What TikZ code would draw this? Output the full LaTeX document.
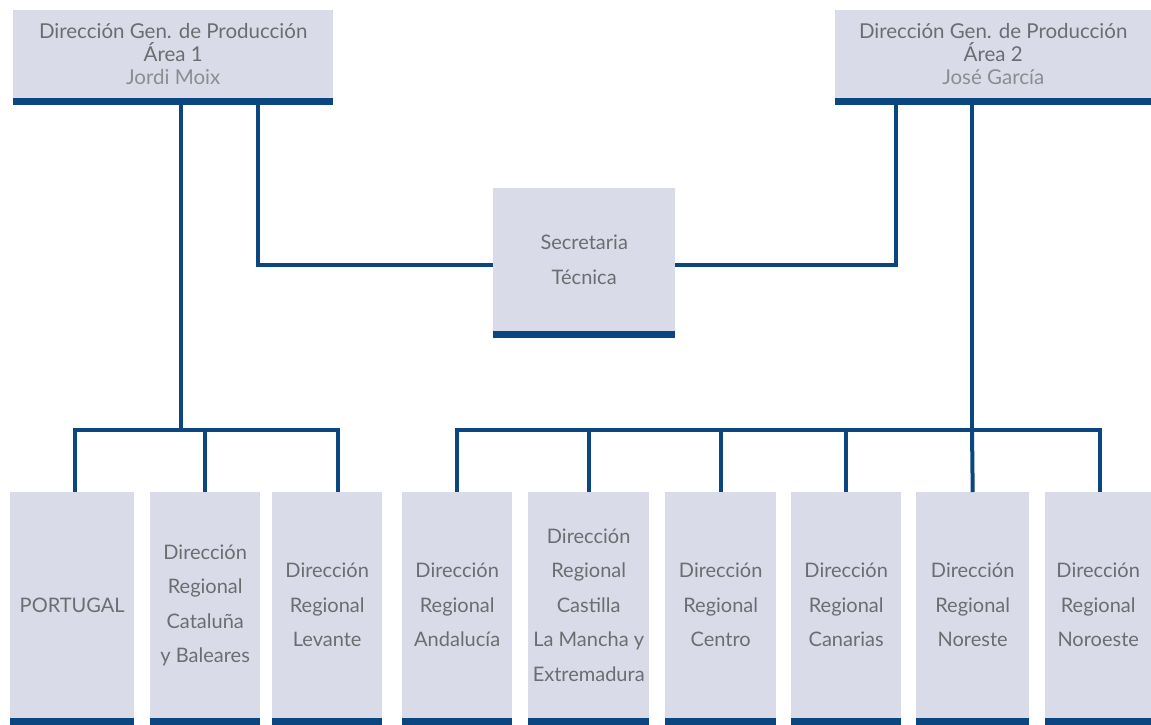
\documentclass[tikz,border=0pt]{standalone}
\usepackage{fontspec}
\setmainfont{Lato}
\usetikzlibrary{positioning,calc}
\definecolor{boxfill}{RGB}{217,220,232}
\definecolor{barblue}{RGB}{11,70,128}
\definecolor{txtgray}{RGB}{108,109,112}
\definecolor{namegray}{RGB}{140,141,145}
\tikzstyle{gbox}=[rectangle, fill=boxfill, inner sep=0pt, anchor=north west,
 text=txtgray, align=center, font=\fontsize{20.5}{23}\selectfont]
\tikzstyle{rbox}=[gbox, minimum height=226pt, font=\fontsize{20}{34.5}\selectfont]
\tikzstyle{conn}=[-, draw=barblue, line width=4pt]
\newcommand{\boxname}[1]{{\color{namegray}#1}}

\begin{document}
\begin{tikzpicture}[x=1pt,y=-1pt]
\useasboundingbox[fill=white] (0,0) rectangle (1151,724);

% direcciones generales
\node (gen1) [gbox, minimum width=320pt, minimum height=88pt] at (13,10)
 {Dirección Gen. de Producción\\Área 1\\\boxname{Jordi Moix}};
\node (gen2) [gbox, minimum width=316pt, minimum height=88pt] at (835,10)
 {Dirección Gen. de Producción\\Área 2\\\boxname{José García}};

\node (sec) [gbox, minimum width=182pt, minimum height=143pt,
 font=\fontsize{20}{35}\selectfont] at (493,188) {Secretaria\\Técnica};

% direcciones regionales
\node (port) [rbox, minimum width=124pt] at (10,492) {PORTUGAL};
\node (cat) [rbox, minimum width=110pt] at (150,492) {Dirección\\Regional\\Cataluña\\y Baleares};
\node (lev) [rbox, minimum width=110pt] at (272,492) {Dirección\\Regional\\Levante};
\node (and) [rbox, minimum width=110pt] at (402,492) {Dirección\\Regional\\Andalucía};
\node (cas) [rbox, minimum width=121pt] at (528,492) {Dirección\\Regional\\Castilla\\La Mancha y\\Extremadura};
\node (cen) [rbox, minimum width=111pt] at (665,492) {Dirección\\Regional\\Centro};
\node (can) [rbox, minimum width=110pt] at (791,492) {Dirección\\Regional\\Canarias};
\node (nore) [rbox, minimum width=113pt] at (916,492) {Dirección\\Regional\\Noreste};
\node (noro) [rbox, minimum width=106pt] at (1045,492) {Dirección\\Regional\\Noroeste};

% barras inferiores
\foreach \n in {gen1,gen2,sec,port,cat,lev,and,cas,cen,can,nore,noro}
 \fill[barblue] (\n.south west) rectangle ([yshift=-7pt]\n.south east);

% conexiones
\coordinate (jL) at (181,430);
\coordinate (jR) at (972,430);
\draw[conn] (jL |- gen1.south) -- (jL);
\draw[conn] (jR |- gen2.south) -- (jR);
\draw[conn] ([xshift=85pt]gen1.south) |- ([yshift=-5.5pt]sec.west);
\draw[conn] ([xshift=-97pt]gen2.south) |- ([yshift=-5.5pt]sec.east);

\draw[conn] (jL) -| ([xshift=3pt]port.north);
\draw[conn] (jL) -| (cat.north);
\draw[conn] (jL) -| ([xshift=11pt]lev.north);

\draw[conn] (jR) -| (and.north);
\draw[conn] (jR) -| (cas.north);
\draw[conn] (jR) -| (cen.north);
\draw[conn] (jR) -| (can.north);
\draw[conn] (jR) -- (nore.north);
\draw[conn] (jR) -| ([xshift=2pt]noro.north);

\end{tikzpicture}
\end{document}
